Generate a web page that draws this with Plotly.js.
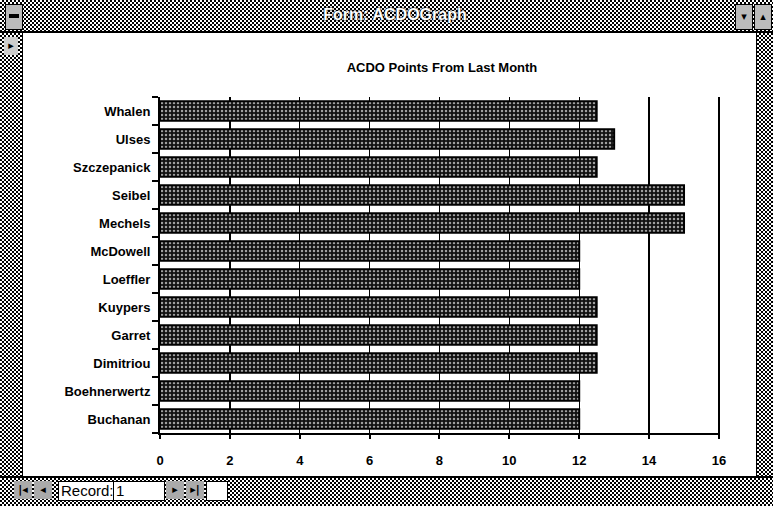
<!DOCTYPE html>
<html>
<head>
<meta charset="utf-8">
<script src="https://cdn.plot.ly/plotly-3.0.1.min.js"></script>
<style>
  html, body { margin:0; padding:0; background:#fff; }
  #wrap { position:relative; width:773px; height:506px; overflow:hidden; background:#fff; }
  #chart { position:absolute; left:0; top:0; width:773px; height:506px; }
  .dither { position:absolute; background: repeating-conic-gradient(#000 0 25%, #fff 0 50%) 0 0/4px 4px; }
  .box { position:absolute; background:#fff; border:1px solid #000; font-family:"Liberation Sans", Arial, sans-serif; font-size:15px; line-height:18px; padding-left:2px; box-sizing:border-box; color:#000; }
  #ttl { position:absolute; left:0; width:790px; top:6px; text-align:center; color:#fff; font-family:"Liberation Sans", Arial, sans-serif; font-weight:bold; font-size:16px; text-shadow:0 0 2px #000, 0 0 2px #000; }
  .btn { position:absolute; color:#000; font-family:"DejaVu Sans", sans-serif; font-weight:bold; font-size:11px; text-align:center; line-height:18px; }
</style>
</head>
<body>
<div id="wrap">
  <div id="chart"></div>
  <!-- window chrome -->
  <div class="dither" style="left:0;top:0;width:773px;height:32px;"></div>
  <div style="position:absolute;left:0;top:31px;width:773px;height:2px;background:#000;"></div>
  <div id="ttl">Form: ACDOGraph</div>
  <div style="position:absolute;left:5px;top:4px;width:18px;height:26px;background:#bbb;border:1px solid #000;box-sizing:border-box;"></div>
  <div style="position:absolute;left:9px;top:14px;width:10px;height:4px;background:#000;"></div>
  <div style="position:absolute;left:735px;top:4px;width:18px;height:26px;background:#bbb;border:1px solid #000;box-sizing:border-box;"></div>
  <div style="position:absolute;left:754px;top:4px;width:18px;height:26px;background:#bbb;border:1px solid #000;box-sizing:border-box;"></div>
  <div class="btn" style="left:735px;top:8px;width:18px;">▾</div>
  <div class="btn" style="left:754px;top:8px;width:18px;">▴</div>
  <div class="dither" style="left:0;top:33px;width:22px;height:445px;"></div>
  <div style="position:absolute;left:22px;top:33px;width:1px;height:445px;background:#000;"></div>
  <div class="btn" style="left:4px;top:37px;width:14px;background:#ccc;">▸</div>
  <div class="dither" style="left:757px;top:33px;width:16px;height:445px;"></div>
  <div style="position:absolute;left:756px;top:33px;width:1px;height:445px;background:#000;"></div>
  <div style="position:absolute;left:0;top:476px;width:773px;height:2px;background:#000;"></div>
  <div class="dither" style="left:0;top:478px;width:773px;height:28px;"></div>
  <div class="btn" style="left:14px;top:481px;width:18px;background:#aaa;">|◂</div>
  <div class="btn" style="left:34px;top:481px;width:18px;background:#aaa;">◂</div>
  <div class="box" style="left:58px;top:481px;width:56px;height:20px;">Record:</div>
  <div class="box" style="left:113px;top:481px;width:52px;height:20px;">1</div>
  <div class="btn" style="left:166px;top:481px;width:18px;background:#aaa;">▸</div>
  <div class="btn" style="left:186px;top:481px;width:18px;background:#aaa;">▸|</div>
  <div class="box" style="left:206px;top:481px;width:22px;height:20px;"></div>
</div>
<script>
  var names = ["Whalen","Ulses","Szczepanick","Seibel","Mechels","McDowell","Loeffler","Kuypers","Garret","Dimitriou","Boehnerwertz","Buchanan"];
  var points = [12.5, 13, 12.5, 15, 15, 12, 12, 12.5, 12.5, 12.5, 12, 12];
  var xTicks = [0, 2, 4, 6, 8, 10, 12, 14, 16];
  var chartTitle = "ACDO Points From Last Month";

  var trace = {
    type: "bar",
    orientation: "h",
    y: names,
    x: points,
    marker: {
      color: "#111",
      pattern: { shape: ".", fgcolor: "#a0a0a0", bgcolor: "#111", size: 4, solidity: 0.3 },
      line: { color: "#000", width: 2 }
    },
    hoverinfo: "none"
  };

  var layout = {
    width: 773, height: 506,
    paper_bgcolor: "#fff", plot_bgcolor: "#fff",
    margin: { l: 160, r: 53, t: 97, b: 73 },
    showlegend: false,
    bargap: 0.3,
    font: { family: "Liberation Sans, Arial, sans-serif", color: "#000" },
    title: {
      text: "<b>" + chartTitle + "</b>",
      x: 442/773, xanchor: "center", xref: "container",
      y: 1 - 67/506, yref: "container", yanchor: "middle",
      font: { size: 13, family: "Liberation Sans, Arial, sans-serif", color: "#000" }
    },
    xaxis: {
      range: [0, 16.03],
      tickvals: xTicks,
      ticktext: xTicks.map(function(v){ return "<b>" + v + "</b>"; }),
      showgrid: true, gridcolor: "#000", gridwidth: 1.3,
      zeroline: false,
      showline: true, linecolor: "#000", linewidth: 2,
      ticks: "outside", ticklen: 4, tickcolor: "#000", tickwidth: 2,
      ticklabelstandoff: 10,
      tickfont: { size: 13, family: "Liberation Sans, Arial, sans-serif", color: "#000" },
      fixedrange: true
    },
    yaxis: {
      type: "category",
      autorange: "reversed",
      tickson: "boundaries",
      ticks: "outside", ticklen: 6, tickcolor: "#000", tickwidth: 2,
      ticklabelstandoff: 5,
      showgrid: false, zeroline: false,
      showline: true, linecolor: "#000", linewidth: 2,
      ticktext: names.map(function(n){ return "<b>" + n + "</b>"; }),
      tickvals: names,
      tickfont: { size: 13, family: "Liberation Sans, Arial, sans-serif", color: "#000" },
      fixedrange: true
    }
  };

  Plotly.newPlot("chart", [trace], layout, { displayModeBar: false, staticPlot: true });
</script>
</body>
</html>
